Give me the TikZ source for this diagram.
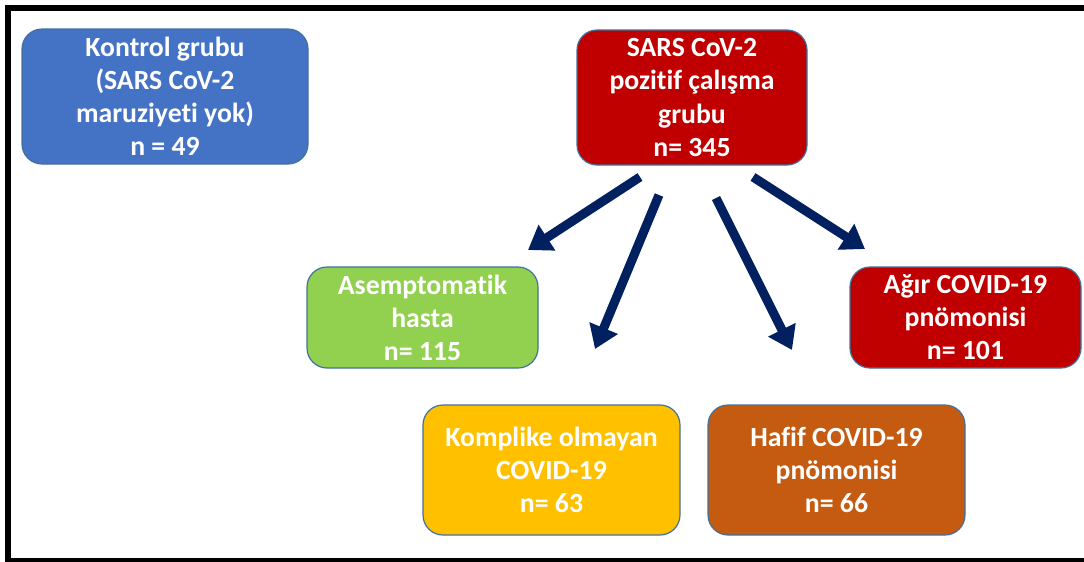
\documentclass[tikz,border=0pt]{standalone}
\usepackage{fontspec}
\setmainfont{Carlito}[Ligatures={NoCommon}]
\usetikzlibrary{arrows.meta}
\definecolor{cblue}{HTML}{4472C4}
\definecolor{cred}{HTML}{C00000}
\definecolor{cgreen}{HTML}{92D050}
\definecolor{cyellow}{HTML}{FFC000}
\definecolor{corange}{HTML}{C55A11}
\definecolor{cedge}{HTML}{41719C}
\definecolor{cnavy}{HTML}{002060}
\tikzset{
  box/.style={draw=cedge, line width=0.9pt, rounded corners=15pt, text=white,
    font=\fontsize{20.8}{24.8}\selectfont\bfseries, align=center, inner sep=0pt},
  arr/.style={draw=cnavy, line width=6.8pt, -{Triangle[width=22pt,length=17pt]}},
  frame/.style={draw=black, line width=4.5pt}
}
\begin{document}
\begin{tikzpicture}[x=0.75pt,y=-0.75pt]
\useasboundingbox (0,0) rectangle (1084,561);
% frame
\draw[frame] (5,7.7) -- (1084,7.7);
\draw[frame] (8.4,5) -- (8.4,561);
\draw[draw=black, line width=3pt] (5,559.5) -- (1084,559.5);
% boxes
\node[box, fill=cblue, minimum width=214.5pt, minimum height=101.25pt] (kontrol) at (165,96.5)
  {Kontrol grubu\\(SARS CoV-2\\maruziyeti yok)\\n = 49};
\node[box, fill=cred, minimum width=172.5pt, minimum height=101.25pt] (sars) at (692,97.5)
  {SARS CoV-2\\pozitif çalışma\\grubu\\n= 345};
\node[box, fill=cgreen, minimum width=173.25pt, minimum height=75.75pt] (asym) at (422.5,317.5)
  {Asemptomatik\\hasta\\n= 115};
\node[box, fill=cred, minimum width=173.25pt, minimum height=75.75pt] (agir) at (965.5,317.5)
  {Ağır COVID-19\\pnömonisi\\n= 101};
\node[box, fill=cyellow, minimum width=192.75pt, minimum height=97.5pt] (komp) at (551.5,470)
  {Komplike olmayan\\COVID-19\\n= 63};
\node[box, fill=corange, minimum width=192.75pt, minimum height=97.5pt] (hafif) at (836.5,470)
  {Hafif COVID-19\\pnömonisi\\n= 66};
% arrows
\coordinate (a1s) at (640,177); \coordinate (a1e) at (528,250);
\coordinate (a2s) at (659,195); \coordinate (a2e) at (595,349);
\coordinate (a3s) at (716,198); \coordinate (a3e) at (792,350);
\coordinate (a4s) at (753,177); \coordinate (a4e) at (865,249);
\draw[arr] (a1s) -- (a1e);
\draw[arr] (a2s) -- (a2e);
\draw[arr] (a3s) -- (a3e);
\draw[arr] (a4s) -- (a4e);
\end{tikzpicture}
\end{document}
